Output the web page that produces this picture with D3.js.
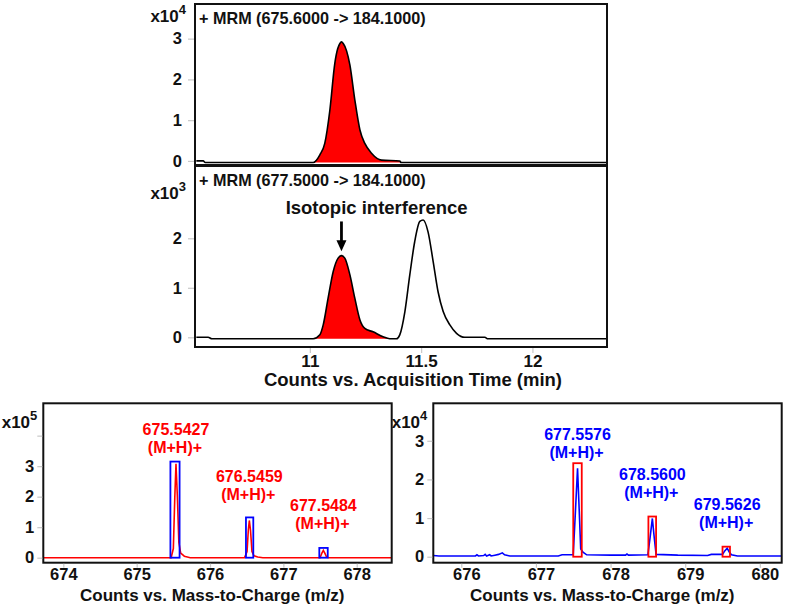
<!DOCTYPE html>
<html><head><meta charset="utf-8">
<script src="https://cdn.jsdelivr.net/npm/d3@7"></script>
<style>
body{margin:0;background:#fff}
text{font-family:"Liberation Sans",Arial,sans-serif;font-weight:bold}
</style>
</head><body>
<svg id="chart" width="787" height="605"></svg>
<script>
// ---------------- DATA ----------------
// MRM 675.6 -> 184.1 (counts x10^4)
const mrm1Time   = [10.49, 10.521, 10.53, 11.015, 11.045, 11.067, 11.09, 11.112, 11.125, 11.135, 11.142, 11.15, 11.165, 11.18, 11.202, 11.225, 11.247, 11.277, 11.322, 11.404, 11.41, 12.335];
const mrm1Counts = [0, 0, -0.04, -0.04, 0.15, 0.43, 1.25, 2.39, 2.75, 2.88, 2.92, 2.88, 2.7, 2.35, 1.5, 0.76, 0.43, 0.19, 0.02, 0, -0.04, -0.04];
const mrm1Fill = [11.015, 11.41];
// MRM 677.5 -> 184.1 (counts x10^3)
const mrm2Time   = [10.49, 10.543, 10.56, 11.015, 11.045, 11.06, 11.082, 11.105, 11.127, 11.142, 11.157, 11.18, 11.202, 11.225, 11.247, 11.284, 11.329, 11.359, 11.389, 11.404, 11.427, 11.449, 11.471, 11.494, 11.509, 11.531, 11.554, 11.576, 11.599, 11.629, 11.659, 11.696, 11.786, 11.8, 12.335];
const mrm2Counts = [0, 0, -0.03, -0.03, 0.05, 0.25, 0.79, 1.33, 1.6, 1.65, 1.6, 1.26, 0.79, 0.35, 0.18, 0.11, 0.01, -0.03, -0.03, 0.05, 0.52, 1.26, 1.93, 2.34, 2.37, 2.13, 1.53, 0.92, 0.52, 0.25, 0.08, 0, 0, -0.03, -0.03];
const mrm2Fill = [11.015, 11.37];
const chromTitles = ["+ MRM (675.6000 -> 184.1000)", "+ MRM (677.5000 -> 184.1000)"];
const chromExp = ["4", "3"];
const chromYTicks1 = [0, 1, 2, 3];
const chromYTicks2 = [0, 1, 2];
const chromXTicks = [11, 11.5, 12];
const chromXDomain = [10.484, 12.335];
const annotText = "Isotopic interference";
const annotPoint = {time: 11.142, top: 2.34, tip: 1.74, textTime: 11.30, textLevel: 2.5};

// Mass spectrum 1 (counts x10^5), red trace with blue boxes
const ms1Mz  = [673.727, 675.47, 675.50, 675.52, 675.536, 675.555, 675.575, 675.60, 675.65, 675.73, 676.47, 676.505, 676.522, 676.536, 676.552, 676.572, 676.60, 676.65, 676.72, 677.50, 677.525, 677.545, 677.565, 677.59, 677.62, 678.477];
const ms1Int = [0, 0, 0.3, 2.0, 3.08, 2.0, 0.5, 0.15, 0.05, 0, 0, 0.2, 0.9, 1.22, 0.9, 0.2, 0.06, 0.02, 0, 0, 0.15, 0.24, 0.15, 0.02, 0, 0];
const ms1PeakLabels = ["675.5427", "676.5459", "677.5484"];
const ms1PeakMz = [675.536, 676.536, 677.546];
const ms1LabelLevel = [3.48, 1.92, 0.96];
const ms1BoxLo = [675.46, 676.49, 677.49];
const ms1BoxHi = [675.585, 676.59, 677.605];
const ms1BoxTop = [3.15, 1.32, 0.32];
const ms1XTicks = [674, 675, 676, 677, 678];
const ms1YTicks = [0, 1, 2, 3, 4];

// Mass spectrum 2 (counts x10^4), blue trace with red boxes
const ms2Mz  = [675.625, 675.7, 676.19, 676.21, 676.23, 676.3, 676.32, 676.34, 676.38, 676.40, 676.45, 676.5, 676.55, 676.58, 676.65, 677.3, 677.35, 677.50, 677.53, 677.5576, 677.58, 677.60, 677.63, 677.68, 678.0, 678.2, 678.22, 678.24, 678.5, 678.53, 678.56, 678.585, 678.61, 678.9, 679.3, 679.35, 679.5, 679.53, 679.5626, 679.59, 679.62, 679.7, 680.293];
const ms2Int = [0.03, 0.02, 0.02, 0.05, 0.02, 0.03, 0.06, 0.02, 0.05, 0.02, 0.04, 0.06, 0.1, 0.05, 0.02, 0.02, 0.05, 0.05, 1.2, 2.29, 1.2, 0.2, 0.12, 0.05, 0.04, 0.04, 0.07, 0.04, 0.05, 0.5, 0.99, 0.5, 0.06, 0.04, 0.03, 0.06, 0.06, 0.15, 0.22, 0.12, 0.05, 0.02, 0.02];
const ms2PeakLabels = ["677.5576", "678.5600", "679.5626"];
const ms2PeakMz = [677.5576, 678.56, 679.5626];
const ms2LabelLevel = [2.59, 1.54, 0.78];
const ms2BoxLo = [677.50, 678.507, 679.50];
const ms2BoxHi = [677.614, 678.61, 679.60];
const ms2BoxTop = [2.42, 1.04, 0.26];
const ms2XTicks = [676, 677, 678, 679, 680];
const ms2YTicks = [0, 1, 2, 3];
const adductLabel = "(M+H)+";
const msXTitle = "Counts vs. Mass-to-Charge (m/z)";
const chromXTitle = "Counts vs. Acquisition Time (min)";

// ---------------- DRAW ----------------
const svg = d3.select("#chart");
const RED = "#ff0000", BLUE = "#0000ff";

function yAxis(g, y, ticks, x, size, pad, fmt) {
  const ax = d3.axisLeft(y).tickValues(ticks).tickSize(size).tickPadding(pad)
    .tickFormat(fmt || (d => d));
  const a = g.append("g").attr("transform", `translate(${x},0)`).call(ax);
  a.select(".domain").remove();
  a.selectAll(".tick line").attr("stroke", "#c8c8c8").attr("stroke-width", 1.2);
  a.selectAll(".tick text").attr("font-size", 16.5).attr("font-family", null).attr("fill", "#111");
  return a;
}
function xAxis(g, x, ticks, y, size, textY, dx, fs) {
  const ax = d3.axisBottom(x).tickValues(ticks).tickSize(size).tickFormat(d => d);
  const a = g.append("g").attr("transform", `translate(0,${y})`).call(ax);
  a.select(".domain").remove();
  a.selectAll(".tick line").attr("stroke", "#c8c8c8").attr("stroke-width", 1.2);
  a.selectAll(".tick text").attr("font-size", fs).attr("font-family", null).attr("fill", "#111")
    .attr("y", textY).attr("dy", null).attr("dx", dx || 0);
  return a;
}
function expLabel(g, xRight, yBase, e) {
  const t = g.append("text").attr("x", xRight).attr("y", yBase).attr("text-anchor", "end")
    .attr("font-size", 17).attr("fill", "#111");
  t.append("tspan").text("x10");
  t.append("tspan").attr("font-size", 13).attr("dy", -8).text(e);
}

// ---- Chromatograms ----
const cx = d3.scaleLinear().domain(chromXDomain).range([195, 607]);
const cy1 = d3.scaleLinear().domain([-0.1, 3.85]).range([165, 4]);
const cy2 = d3.scaleLinear().domain([-0.196, 3.44]).range([347, 167]);

function chrom(times, counts, fill, y, base, top, bottom, title, exp, yticks, expY) {
  const g = svg.append("g");
  const pts = times.map((t, i) => [t, counts[i]]);
  const clipId = "clip" + Math.round(top);
  g.append("clipPath").attr("id", clipId).append("rect")
    .attr("x", 195).attr("y", top).attr("width", 412).attr("height", bottom - top);
  const fillPts = pts.filter(p => p[0] >= fill[0] && p[0] <= fill[1]);
  g.append("path").datum(fillPts).attr("clip-path", `url(#${clipId})`)
    .attr("d", d3.area().x(d => cx(d[0])).y0(y(base)).y1(d => y(d[1])).curve(d3.curveMonotoneX))
    .attr("fill", RED);
  g.append("path").datum(pts).attr("clip-path", `url(#${clipId})`)
    .attr("d", d3.line().x(d => cx(d[0])).y(d => y(d[1])).curve(d3.curveMonotoneX))
    .attr("fill", "none").attr("stroke", "#000").attr("stroke-width", 1.6);
  g.append("rect").attr("x", 195).attr("y", top).attr("width", 412).attr("height", bottom - top)
    .attr("fill", "none").attr("stroke", "#111").attr("stroke-width", 2);
  g.append("text").attr("x", 199).attr("y", top + 20).attr("font-size", 16.2).attr("fill", "#111").text(title);
  yAxis(g, y, yticks, 194, 6, 6);
  expLabel(g, 186, expY, exp);
  return g;
}
chrom(mrm1Time, mrm1Counts, mrm1Fill, cy1, -0.04, 4, 165, chromTitles[0], chromExp[0], chromYTicks1, 22);
const g2 = chrom(mrm2Time, mrm2Counts, mrm2Fill, cy2, -0.03, 166, 347, chromTitles[1], chromExp[1], chromYTicks2, 199);
xAxis(g2, cx, chromXTicks, 348, 5, 18.5, 0, 17);
g2.append("text").attr("x", 413).attr("y", 386).attr("text-anchor", "middle").attr("font-size", 18.5)
  .attr("fill", "#111").text(chromXTitle);
// annotation arrow
const ax0 = cx(annotPoint.time);
g2.append("line").attr("x1", ax0).attr("x2", ax0).attr("y1", cy2(annotPoint.top)).attr("y2", cy2(annotPoint.tip) - 8)
  .attr("stroke", "#000").attr("stroke-width", 2.8);
g2.append("path").attr("d", `M${ax0 - 5},${cy2(annotPoint.tip) - 11} L${ax0 + 5},${cy2(annotPoint.tip) - 11} L${ax0},${cy2(annotPoint.tip)} Z`)
  .attr("fill", "#000");
g2.append("text").attr("x", cx(annotPoint.textTime)).attr("y", cy2(annotPoint.textLevel)).attr("text-anchor", "middle")
  .attr("font-size", 18.5).attr("fill", "#111").text(annotText);

// ---- Mass spectra ----
function spectrum(opt) {
  const g = svg.append("g");
  const x = d3.scaleLinear().domain(opt.xDomain).range([opt.left, opt.left + 348.4]);
  const y = d3.scaleLinear().domain(opt.yDomain).range([562.7, 403.3]);
  const clipId = "clipms" + Math.round(opt.left);
  g.append("clipPath").attr("id", clipId).append("rect")
    .attr("x", opt.left).attr("y", 403.3).attr("width", 348.4).attr("height", 159.4);
  const pts = opt.mz.map((m, i) => [m, opt.int[i]]);
  g.append("path").datum(pts).attr("clip-path", `url(#${clipId})`)
    .attr("d", d3.line().x(d => x(d[0])).y(d => y(d[1])))
    .attr("fill", "none").attr("stroke", opt.lineColor).attr("stroke-width", 1.6);
  opt.boxLo.forEach((lo, i) => {
    g.append("rect").attr("x", x(lo)).attr("y", y(opt.boxTop[i]))
      .attr("width", x(opt.boxHi[i]) - x(lo)).attr("height", y(0) - y(opt.boxTop[i]))
      .attr("fill", "none").attr("stroke", opt.boxColor).attr("stroke-width", 1.8);
  });
  opt.labels.forEach((lab, i) => {
    const px = x(opt.peakMz[i]), py = y(opt.labelLevel[i]);
    g.append("text").attr("x", px).attr("y", py - 17).attr("text-anchor", "middle")
      .attr("font-size", 16).attr("fill", opt.lineColor).text(lab);
    g.append("text").attr("x", px - 1).attr("y", py + 1).attr("text-anchor", "middle")
      .attr("font-size", 16).attr("fill", opt.lineColor).text(adductLabel);
  });
  g.append("rect").attr("x", opt.left).attr("y", 403.3).attr("width", 348.4).attr("height", 159.4)
    .attr("fill", "none").attr("stroke", "#111").attr("stroke-width", 2);
  yAxis(g, y, opt.yTicks, opt.left - 1, 5, 3, d => (d === 4 ? "" : d));
  xAxis(g, x, opt.xTicks, 563.7, 4, 16.3, opt.tickDx, 16.5);
  g.append("text").attr("x", opt.left + 169).attr("y", 600.5).attr("text-anchor", "middle").attr("font-size", 17)
    .attr("fill", "#111").text(msXTitle);
  expLabel(g, opt.left - 6, 428, opt.exp);
}
spectrum({left: 43.3, xDomain: [673.727, 678.477], yDomain: [-0.164, 5.06], mz: ms1Mz, int: ms1Int,
  lineColor: RED, boxColor: BLUE, boxLo: ms1BoxLo, boxHi: ms1BoxHi, boxTop: ms1BoxTop,
  labels: ms1PeakLabels, peakMz: ms1PeakMz, labelLevel: ms1LabelLevel, xTicks: ms1XTicks, yTicks: ms1YTicks, exp: "5", tickDx: 0});
spectrum({left: 433.3, xDomain: [675.625, 680.293], yDomain: [-0.155, 3.97], mz: ms2Mz, int: ms2Int,
  lineColor: BLUE, boxColor: RED, boxLo: ms2BoxLo, boxHi: ms2BoxHi, boxTop: ms2BoxTop,
  labels: ms2PeakLabels, peakMz: ms2PeakMz, labelLevel: ms2LabelLevel, xTicks: ms2XTicks, yTicks: ms2YTicks, exp: "4", tickDx: 5});
</script>
</body></html>
